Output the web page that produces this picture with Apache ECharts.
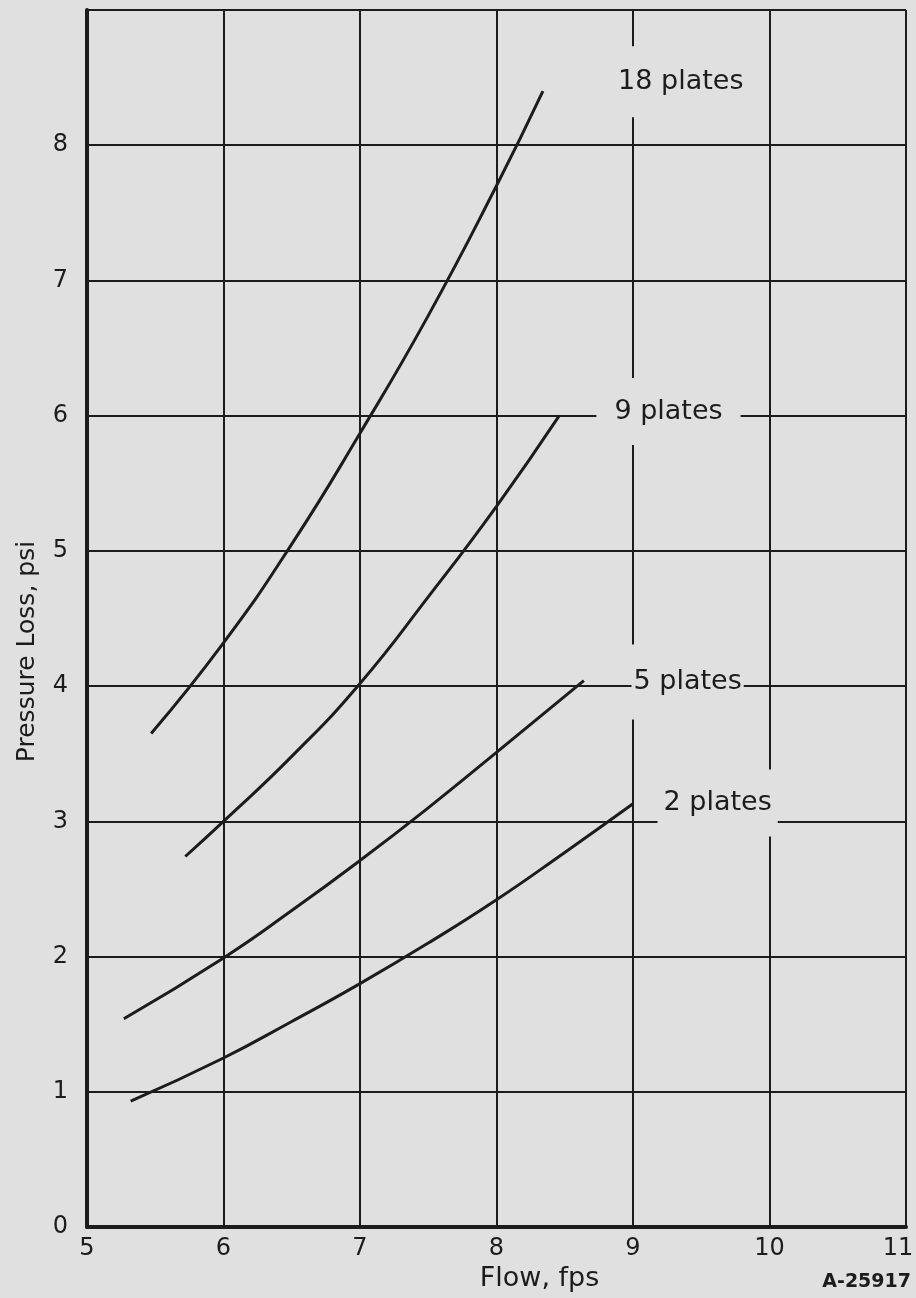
<!DOCTYPE html>
<html>
<head>
<meta charset="utf-8">
<script src="https://cdn.jsdelivr.net/npm/echarts@6/dist/echarts.min.js"></script>
<style>
html,body{margin:0;padding:0;background:#e0e0e0;}
#c{width:916px;height:1298px;}
</style>
</head>
<body>
<div id="c"></div>
<script>
// Flow (fps) and pressure loss (psi)
var flow18 = [5.47, 6.0, 6.5, 7.0, 7.5, 8.0, 8.34];
var loss18 = [3.65, 4.32, 5.05, 5.87, 6.74, 7.70, 8.40];
var flow9 = [5.72, 6.0, 6.5, 7.0, 7.5, 8.0, 8.46];
var loss9 = [2.74, 3.0, 3.48, 4.02, 4.66, 5.33, 6.0];
var flow5 = [5.27, 6.0, 6.5, 7.0, 7.5, 8.0, 8.64];
var loss5 = [1.54, 1.99, 2.34, 2.71, 3.10, 3.51, 4.04];
var flow2 = [5.32, 6.0, 6.5, 7.0, 7.5, 8.0, 8.5, 9.0];
var loss2 = [0.93, 1.25, 1.52, 1.80, 2.10, 2.42, 2.77, 3.13];

var seriesNames = ['18 plates', '9 plates', '5 plates', '2 plates'];
// label anchor (flow, psi) for each curve name
var labelFlow = [9.35, 9.26, 9.40, 9.62];
var labelLoss = [8.47, 6.03, 4.03, 3.135];

var xTicks = [5, 6, 7, 8, 9, 10, 11];
var yTicks = [0, 1, 2, 3, 4, 5, 6, 7, 8];

function pairs(xs, ys) { return xs.map(function (x, i) { return [x, ys[i]]; }); }

var ink = '#1c1c1c';
var bg = '#e0e0e0';
var font = 'DejaVu Sans';
var labelPads = [[22, 6], [20, 18], [24, 2], [20, 6]];

var flows = [flow18, flow9, flow5, flow2];
var losses = [loss18, loss9, loss5, loss2];

var series = seriesNames.map(function (name, i) {
  return {
    name: name,
    type: 'line',
    data: pairs(flows[i], losses[i]),
    smooth: 0.5,
    showSymbol: false,
    symbol: 'none',
    lineStyle: { color: ink, width: 3 },
    z: 3,
    markPoint: {
      symbol: 'rect',
      symbolSize: 0,
      silent: true,
      data: [{ coord: [labelFlow[i], labelLoss[i]] }],
      label: {
        show: true,
        position: 'inside',
        formatter: name,
        color: ink,
        fontFamily: font,
        fontSize: 27,
        backgroundColor: bg,
        padding: labelPads[i]
      }
    }
  };
});

var chart = echarts.init(document.getElementById('c'), null, { renderer: 'canvas' });
chart.setOption({
  backgroundColor: bg,
  animation: false,
  grid: { left: 87, right: 10, top: 10, bottom: 71, containLabel: false, outerBoundsMode: 'none' },
  xAxis: {
    type: 'value',
    min: 5, max: 11, interval: 1,
    name: 'Flow, fps',
    nameLocation: 'middle',
    nameGap: 36,
    nameTextStyle: { color: ink, fontFamily: font, fontSize: 27, padding: [0, 0, 0, 86] },
    axisLine: { show: true, lineStyle: { color: ink, width: 4 } },
    axisTick: { show: false },
    axisLabel: {
      color: ink, fontFamily: font, fontSize: 24, margin: 10,
      formatter: function (v) {
        if (xTicks.indexOf(v) < 0) return '';
        return v === 11 ? '{r|11}' : String(v);
      },
      rich: { r: { color: ink, fontFamily: font, fontSize: 24, padding: [0, 16, 0, 0] } }
    },
    splitLine: { show: true, lineStyle: { color: ink, width: 2 } }
  },
  yAxis: {
    type: 'value',
    min: 0, max: 9, interval: 1,
    name: 'Pressure Loss, psi',
    nameLocation: 'middle',
    nameGap: 47,
    nameTextStyle: { color: ink, fontFamily: font, fontSize: 25, padding: [0, 66, 0, 0] },
    axisLine: { show: true, lineStyle: { color: ink, width: 4 } },
    axisTick: { show: false },
    axisLabel: {
      color: ink, fontFamily: font, fontSize: 24, margin: 19,
      formatter: function (v) { return yTicks.indexOf(v) >= 0 ? String(v) : ''; }
    },
    splitLine: { show: true, lineStyle: { color: ink, width: 2 } }
  },
  graphic: [{
    type: 'text',
    right: 5,
    bottom: 6,
    style: { text: 'A-25917', fill: ink, font: 'bold 19px "DejaVu Sans"' }
  }],
  series: series
});
</script>
</body>
</html>
